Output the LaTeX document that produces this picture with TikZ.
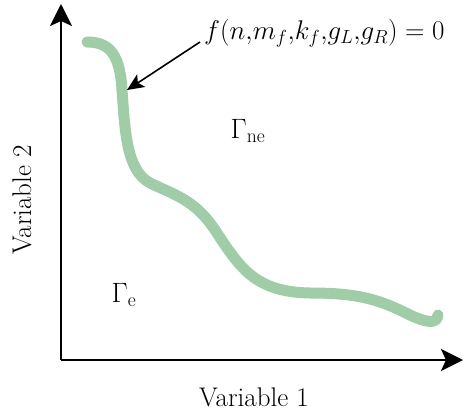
\documentclass[tikz,border=0pt]{standalone}
\usepackage{fix-cm}
\usepackage{amsmath}
\usepackage{fontspec}
\setmainfont{Latin Modern Roman}
\usetikzlibrary{arrows.meta}
\definecolor{curvegreen}{RGB}{160,204,168}
\tikzset{
  axis/.style={line width=2.2pt,-{Stealth[length=22pt,width=22pt,inset=5pt]}},
  pointer/.style={line width=1.6pt,-{Stealth[length=17pt,width=15pt,inset=4pt]}},
  boundary/.style={curvegreen,line width=11pt,line cap=round,line join=round},
  lbl/.style={font=\fontsize{27}{32}\selectfont,inner sep=0pt},
  eqlbl/.style={font=\fontsize{27}{32}\selectfont,inner sep=0pt},
  glbl/.style={font=\fontsize{28}{33}\selectfont,inner sep=0pt}
}
\begin{document}
\begin{tikzpicture}[x=1pt,y=-1pt]
\useasboundingbox (0,0) rectangle (464,413);
\coordinate (O) at (61,360);
\coordinate (ytip) at (61,4);
\coordinate (xtip) at (463,360);
\draw[axis] (O) -- (ytip);
\draw[axis] (O) -- (xtip);
\draw[boundary] (87,42) .. controls (110,42) and (120,55) .. (122,90)
  .. controls (125,130) and (126,170) .. (150,183)
  .. controls (175,195) and (195,200) .. (215,230)
  .. controls (240,268) and (255,292) .. (310,293)
  .. controls (360,293) and (380,300) .. (410,315)
  .. controls (425,322) and (437,325) .. (438,315);
\node[eqlbl,anchor=west] (eq) at (204,33) {$f(n{,}m_f{,}k_f{,}g_L{,}g_R)=0$};
\coordinate (hit) at (127,90);
\draw[pointer] (200,42) -- (hit);
\node[glbl] (gne) at (248,131) {$\Gamma_{\mathrm{ne}}$};
\node[glbl] (ge) at (124,295) {$\Gamma_{\mathrm{e}}$};
\node[lbl] (v1) at (254,397) {Variable 1};
\node[lbl,rotate=90] (v2) at (22,200) {Variable 2};
\end{tikzpicture}
\end{document}
